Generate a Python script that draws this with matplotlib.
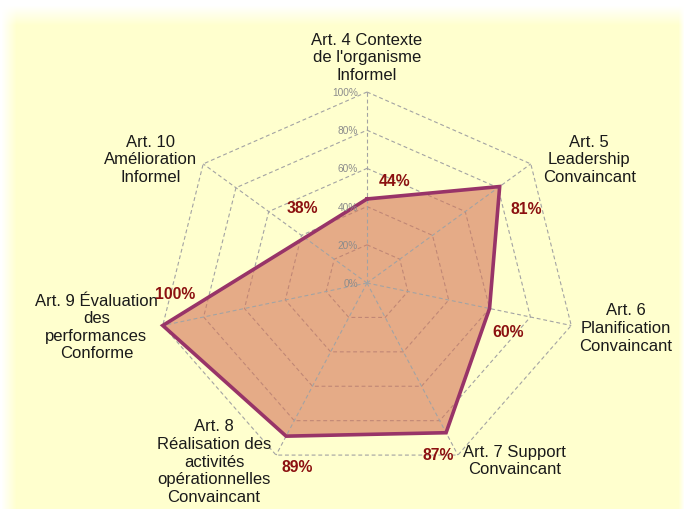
import numpy as np
import matplotlib
matplotlib.use("Agg")
import matplotlib.pyplot as plt

# ---------------- data ----------------
categories = [
    "Art. 4 Contexte\nde l'organisme\nInformel",
    "Art. 5\nLeadership\nConvaincant",
    "Art. 6\nPlanification\nConvaincant",
    "Art. 7 Support\nConvaincant",
    "Art. 8\nRéalisation des\nactivités\nopérationnelles\nConvaincant",
    "Art. 9 Évaluation\ndes\nperformances\nConforme",
    "Art. 10\nAmélioration\nInformel",
]
values = [44, 81, 60, 87, 89, 100, 38]
ring_levels = [0, 20, 40, 60, 80, 100]
ring_labels = ["0%", "20%", "40%", "60%", "80%", "100%"]

# label offsets (pixels) for value labels - style only
value_label_offsets = [(28, 18), (27, -22), (19, -23), (-8, -22), (11, -30), (12, 32), (-2, 30)]

W, H, DPI = 684, 510, 100
fig = plt.figure(figsize=(W / DPI, H / DPI), dpi=DPI)
fig.patch.set_facecolor("white")

# ---------- background panel with soft edges ----------
bg_ax = fig.add_axes([0, 0, 1, 1], zorder=-10)
bg_ax.set_axis_off()
yy, xx = np.mgrid[0:H, 0:W]
def ramp(d, a, b):
    return np.clip((d - a) / (b - a), 0, 1)
mask = ramp(yy, 6, 26) * ramp(xx, 1, 16) * ramp(W - xx, 0, 6)
yellow = np.array([255, 255, 206]) / 255.0
white = np.array([1.0, 1.0, 1.0])
img = white[None, None, :] * (1 - mask[..., None]) + yellow[None, None, :] * mask[..., None]
bg_ax.imshow(img, extent=[0, 1, 0, 1], aspect="auto", origin="upper")
bg_ax.set_xlim(0, 1)
bg_ax.set_ylim(0, 1)

# ---------- radar axes (cartesian, horizontally stretched) ----------
ax = fig.add_axes([0, 0, 1, 1])
ax.set_axis_off()
ax.patch.set_alpha(0)
cx, cy = 367, 284
sx, sy = 2.095, 1.91  # px per unit
ax.set_xlim(-cx / sx, (W - cx) / sx)
ax.set_ylim(-(H - cy) / sy, cy / sy)

n = len(categories)
theta = np.arange(n) * 2 * np.pi / n
ux, uy = np.sin(theta), np.cos(theta)

grid_col = "#A3A3A3"
dash = (0, (3.5, 2.5))
# rings (under fill)
for lv in ring_levels[1:]:
    ax.plot(np.append(ux, ux[0]) * lv, np.append(uy, uy[0]) * lv,
            color=grid_col, lw=0.8, ls=dash, zorder=1)

# fill + outline
v = np.array(values, dtype=float)
px, py = ux * v, uy * v
ax.fill(px, py, color=(212 / 255, 116 / 255, 88 / 255), alpha=0.6, lw=0, zorder=2)
# spokes (on top of fill)
for i in range(n):
    ax.plot([0, ux[i] * 100], [0, uy[i] * 100], color=grid_col, lw=0.8, ls=dash, zorder=3)
ax.plot(np.append(px, px[0]), np.append(py, py[0]), color="#983468", lw=2.6,
        solid_joinstyle="miter", zorder=4)

# radial tick labels
for lv, lab in zip(ring_levels, ring_labels):
    ax.annotate(lab, (0, lv), xytext=(-9, 0), textcoords="offset pixels",
                ha="right", va="center", fontsize=7.3, color="#8C8C8C",
                family="Liberation Sans", zorder=5)

# category labels
for i, lab in enumerate(categories):
    s = ux[i]
    if s > 0.1:
        ha = "left"
        off = (5, -5)
        if uy[i] > 0.3:
            off = (12, 5)
        elif uy[i] > -0.5:
            off = (8, -2)
    elif s < -0.1:
        ha = "right"
        off = (-6, 5) if uy[i] > 0.3 else (-5, -6 if uy[i] < -0.5 else -1)
    else:
        ha, off = "center", (0, 10)
    va = "bottom" if ha == "center" else "center"
    ax.annotate(lab, (ux[i] * 100, uy[i] * 100), xytext=off, textcoords="offset pixels",
                ha=ha, va=va, multialignment="center", fontsize=12,
                family="Liberation Sans", color="#1A1A1A", linespacing=1.22, zorder=6)

# value labels
for i, val in enumerate(values):
    ax.annotate(f"{val}%", (px[i], py[i]), xytext=value_label_offsets[i],
                textcoords="offset pixels", ha="center", va="center",
                fontsize=11.3, fontweight="bold", color="#8B1010",
                family="Liberation Sans", zorder=6)

fig.savefig("out.png", dpi=DPI, facecolor=fig.get_facecolor())
